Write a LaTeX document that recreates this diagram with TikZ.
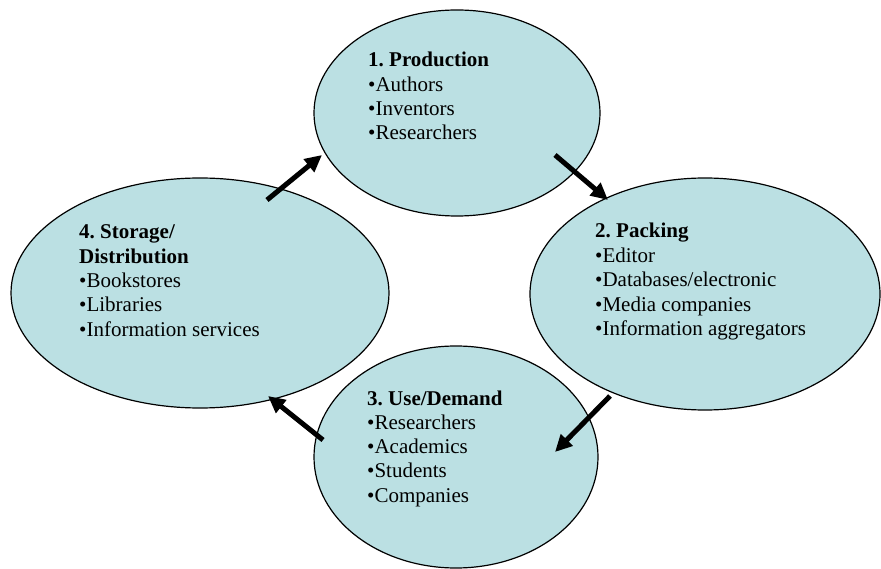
\documentclass[tikz,border=0pt]{standalone}
\usepackage{fontspec}
\setmainfont{Liberation Serif}
\usepackage{xcolor}
\usetikzlibrary{shapes,arrows.meta,positioning}
\definecolor{cyclefill}{RGB}{187,224,227}
\frenchspacing

\begin{document}
\begin{tikzpicture}[x=1pt,y=-1pt]

\tikzset{stage/.style={ellipse, draw=black, line width=1.2pt, fill=cyclefill, inner sep=0pt},
item/.style={anchor=base west, inner sep=0pt, font=\fontsize{21}{24}\selectfont},
%thick arrows between the stages
flow/.style={line width=5pt, -{Triangle[length=17pt, width=16pt]}}}

\useasboundingbox (0,0) rectangle (881,569);

\node[stage, minimum width=286pt, minimum height=206pt] (prod) at (457,113) {};
\node[stage, minimum width=350pt, minimum height=232pt] (pack) at (705,294) {};
\node[stage, minimum width=284pt, minimum height=222pt] (use) at (456,457) {};
\node[stage, minimum width=378pt, minimum height=230pt] (store) at (200,293) {};

%now the arrows
\coordinate (s1) at (267,200); \coordinate (p1) at (322,155);
\coordinate (s2) at (555,155); \coordinate (p2) at (608,200);
\coordinate (s3) at (610,396); \coordinate (p3) at (555,452);
\coordinate (s4) at (323,440); \coordinate (p4) at (268,396);

\foreach \i in {1,2,3,4}
  \draw[flow] (s\i) -- (p\i);

%texts
\foreach \t [count=\i from 0] in {{\bfseries 1. Production}, •Authors, •Inventors, •Researchers}
  \node[item] (prod\i) at (368, 67+24.3*\i) {\t};

\foreach \t [count=\i from 0] in {{\bfseries 2. Packing}, •Editor, •Databases/electronic, •Media companies, •Information aggregators}
  \node[item] (pack\i) at (595, 238+24.5*\i) {\t};

\foreach \t [count=\i from 0] in {{\bfseries 3. Use/Demand}, •Researchers, •Academics, •Students, •Companies}
  \node[item] (use\i) at (367, 405+24.3*\i) {\t};

\foreach \t [count=\i from 0] in {{\bfseries 4. Storage/}, {\bfseries Distribution}, •Bookstores, •Libraries, •Information services}
  \node[item] (store\i) at (79, 239+24.3*\i) {\t};

\end{tikzpicture}
\end{document}
